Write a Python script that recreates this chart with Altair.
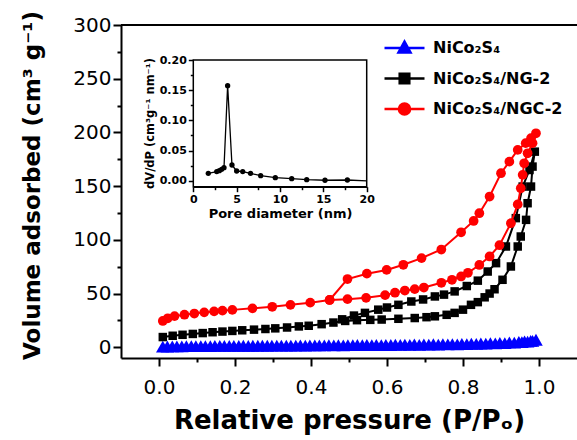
import altair as alt
import pandas as pd

SERIES = ["NiCo₂S₄", "NiCo₂S₄/NG-2", "NiCo₂S₄/NGC-2"]
COLORS = ["#0000ff", "#000000", "#ff0000"]

# ---- NiCo2S4 (blue) ----
blue_ads_p = [0.010, 0.035, 0.060, 0.085, 0.110, 0.135, 0.160, 0.185, 0.210, 0.235, 0.260, 0.285,
              0.310, 0.335, 0.360, 0.385, 0.410, 0.435, 0.460, 0.485, 0.510, 0.535, 0.560, 0.585,
              0.610, 0.635, 0.660, 0.685, 0.710, 0.735, 0.760, 0.785, 0.810, 0.835, 0.860, 0.885,
              0.910, 0.935, 0.955, 0.970, 0.983, 0.992]
blue_ads_v = [0.5, 0.8, 0.9, 1.0, 1.0, 1.1, 1.2, 1.2, 1.3, 1.3, 1.4, 1.4,
              1.5, 1.5, 1.6, 1.6, 1.7, 1.7, 1.8, 1.8, 1.9, 1.9, 2.0, 2.0,
              2.1, 2.2, 2.2, 2.3, 2.4, 2.5, 2.6, 2.7, 2.9, 3.1, 3.3, 3.6,
              3.9, 4.3, 4.8, 5.3, 6.0, 7.0]
blue_des_p = [0.978, 0.962, 0.947, 0.922, 0.897, 0.872, 0.847, 0.822, 0.797, 0.772, 0.747, 0.722,
              0.697, 0.672, 0.647, 0.622, 0.597, 0.572, 0.547, 0.522, 0.497, 0.472, 0.447, 0.422,
              0.397, 0.372, 0.347, 0.322, 0.297, 0.272, 0.247, 0.222, 0.197, 0.172, 0.147, 0.122,
              0.097, 0.072, 0.047, 0.022]
blue_des_v = [6.0, 5.4, 5.0, 4.5, 4.1, 3.8, 3.5, 3.3, 3.1, 3.0, 2.9, 2.8,
              2.7, 2.6, 2.5, 2.4, 2.3, 2.3, 2.2, 2.1, 2.0, 2.0, 1.9, 1.8,
              1.8, 1.7, 1.6, 1.6, 1.5, 1.5, 1.4, 1.4, 1.3, 1.3, 1.2, 1.1,
              1.1, 1.0, 0.9, 0.7]

# ---- NiCo2S4/NG-2 (black) ----
black_ads_p = [0.010, 0.036, 0.062, 0.089, 0.115, 0.141, 0.167, 0.193, 0.219, 0.250, 0.280, 0.306,
               0.337, 0.368, 0.394, 0.428, 0.459, 0.490, 0.521, 0.556, 0.586, 0.630, 0.673, 0.704,
               0.726, 0.757, 0.778, 0.800, 0.821, 0.839, 0.857, 0.870, 0.883, 0.904, 0.926, 0.944,
               0.952, 0.966, 0.970, 0.979, 0.983, 0.989]
black_ads_v = [9.5, 10.7, 11.6, 12.4, 13.2, 14.0, 14.6, 15.2, 15.8, 16.4, 17.0, 17.6,
               18.4, 19.4, 20.0, 21.5, 23.0, 24.5, 25.2, 25.5, 25.8, 26.5, 27.2, 28.0,
               28.8, 30.2, 32.0, 35.0, 39.5, 42.0, 46.5, 50.0, 54.0, 62.8, 75.2, 93.8,
               103.1, 118.6, 134.1, 149.6, 168.2, 182.1]
black_des_p = [0.975, 0.957, 0.939, 0.913, 0.887, 0.865, 0.839, 0.810, 0.778, 0.750, 0.726, 0.695,
               0.664, 0.630, 0.600, 0.577, 0.542, 0.513, 0.482]
black_des_v = [165.0, 149.6, 120.2, 93.8, 78.3, 70.5, 62.0, 57.0, 52.0, 49.0, 47.3, 44.5,
               42.6, 39.5, 37.0, 35.0, 32.0, 29.5, 26.0]

# ---- NiCo2S4/NGC-2 (red) ----
red_ads_p = [0.010, 0.023, 0.041, 0.067, 0.093, 0.119, 0.145, 0.167, 0.193, 0.246, 0.298, 0.346,
             0.398, 0.449, 0.496, 0.545, 0.595, 0.621, 0.647, 0.673, 0.697, 0.743, 0.771, 0.795,
             0.813, 0.843, 0.870, 0.896, 0.926, 0.944, 0.952, 0.957, 0.961, 0.970, 0.983, 0.992]
red_ads_v = [24.5, 27.0, 29.0, 30.3, 31.4, 32.5, 33.4, 34.1, 34.8, 36.2, 37.7, 39.5,
             41.5, 44.0, 44.8, 46.0, 48.5, 50.8, 52.8, 54.1, 55.6, 60.0, 62.8, 65.9,
             69.3, 76.6, 84.5, 95.0, 115.5, 133.0, 148.0, 160.5, 171.3, 180.6, 190.0, 199.2]
red_des_p = [0.979, 0.965, 0.944, 0.922, 0.900, 0.870, 0.843, 0.828, 0.795, 0.743, 0.691, 0.643,
             0.599, 0.547, 0.496, 0.449]
red_des_v = [194.6, 190.0, 183.7, 172.8, 162.0, 140.3, 124.8, 117.6, 107.0, 91.0, 83.0, 76.8,
             72.0, 68.5, 63.5, 44.0]

# ---- inset: pore size distribution ----
inset_d = [1.73, 2.70, 3.00, 3.27, 3.54, 3.96, 4.46, 5.00, 5.70, 6.60, 7.77, 9.46,
           11.35, 13.08, 15.19, 17.77, 20.0]
inset_v = [0.0122, 0.0150, 0.0166, 0.0188, 0.0216, 0.1575, 0.0260, 0.0160, 0.0150, 0.0122, 0.0083, 0.0050,
           0.0033, 0.0017, 0.0007, 0.0011, -0.0005]

x_ticks = [0.0, 0.1, 0.2, 0.3, 0.4, 0.5, 0.6, 0.7, 0.8, 0.9, 1.0]
y_ticks = [0, 25, 50, 75, 100, 125, 150, 175, 200, 225, 250, 275, 300]
inset_x_ticks = [0, 2.5, 5, 7.5, 10, 12.5, 15, 17.5, 20]
inset_y_ticks = [0, 0.025, 0.05, 0.075, 0.1, 0.125, 0.15, 0.175, 0.2]


def series_frame(name, ap, av, dp, dv):
    p = ap + dp
    v = av + dv
    return pd.DataFrame({"series": name, "p": p, "v": v, "idx": list(range(len(p)))})


df = pd.concat([
    series_frame(SERIES[0], blue_ads_p, blue_ads_v, blue_des_p, blue_des_v),
    series_frame(SERIES[1], black_ads_p, black_ads_v, black_des_p, black_des_v),
    series_frame(SERIES[2], red_ads_p, red_ads_v, red_des_p, red_des_v),
], ignore_index=True)

inset_df = pd.DataFrame({"d": inset_d, "dv": inset_v})

FONT = "DejaVu Sans"

xs = alt.Scale(domain=[-0.1, 1.1], nice=False, zero=False)
ys = alt.Scale(domain=[-10, 300], nice=False, zero=False)

x_axis = alt.Axis(
    orient="bottom", values=x_ticks, grid=False,
    labelExpr="round(datum.value*10) % 2 == 0 ? format(datum.value, '.1f') : ''",
    tickSize={"condition": {"test": "round(datum.value*10) % 2 != 0", "value": 4}, "value": 8},
    tickWidth=2, tickColor="black", domainColor="black", domainWidth=2,
    labelFont=FONT, labelFontSize=20, labelColor="black", labelPadding=11,
    labelFlush=False, labelOverlap=False,
    title="Relative pressure (P/Pₒ)", titleFont=FONT, titleFontSize=26, titleFontWeight="bold",
    titleColor="black", titleY=62, titleBaseline="middle",
)
y_axis = alt.Axis(
    orient="left", values=y_ticks, grid=False,
    labelExpr="datum.value % 50 == 0 ? format(datum.value, 'd') : ''",
    tickSize={"condition": {"test": "datum.value % 50 != 0", "value": 4}, "value": 8},
    tickWidth=2, tickColor="black", domainColor="black", domainWidth=2,
    labelFont=FONT, labelFontSize=20, labelColor="black", labelPadding=2,
    labelFlush=False, labelOverlap=False,
    title="Volume adsorbed (cm³ g⁻¹)", titleFont=FONT, titleFontSize=23, titleFontWeight="bold",
    titleColor="black", titleX=-89, titleY=160, titleBaseline="middle", titleAngle=270,
)

X = alt.X("p:Q", scale=xs, axis=x_axis)
Y = alt.Y("v:Q", scale=ys, axis=y_axis)

top_df = pd.DataFrame({"p": [-0.1], "p2": [1.1], "v": [300]})
top_rule = alt.Chart(top_df).mark_rule(color="black", strokeWidth=2).encode(
    x=X, x2="p2:Q", y=Y)

shapes = ["triangle-up", "square", "circle"]
sizes = [185, 72, 95]
layers = [top_rule]
for name, col, shp, sz in zip(SERIES, COLORS, shapes, sizes):
    base = alt.Chart(df).transform_filter(alt.datum.series == name)
    layers.append(base.mark_line(color=col, strokeWidth=2).encode(x=X, y=Y, order="idx:Q"))
    layers.append(base.mark_point(shape=shp, filled=True, size=sz, color=col, opacity=1)
                  .encode(x=X, y=Y))

leg_paths = [
    "M-1,0H1M0,-0.32L0.3,0.22L-0.3,0.22Z",
    "M-1,0H1M-0.24,-0.24H0.24V0.24H-0.24Z",
    "M-1,0H1M-0.28,0A0.28,0.28,0,1,0,0.28,0A0.28,0.28,0,1,0,-0.28,0Z",
]


def make_legend():
    return alt.Legend(
        title=None, orient="none", legendX=262, legendY=13, padding=0,
        labelFont=FONT, labelFontWeight="bold", labelFontSize=16, labelColor="black",
        symbolSize=1600, symbolStrokeWidth=2.5, clipHeight=20, rowPadding=10.5,
        labelOffset=7, symbolOpacity=1,
    )


legend_layer = alt.Chart(df).transform_filter("false").mark_point(filled=True, opacity=1).encode(
    fill=alt.Fill("series:N", scale=alt.Scale(domain=SERIES, range=COLORS), legend=make_legend()),
    stroke=alt.Stroke("series:N", scale=alt.Scale(domain=SERIES, range=COLORS), legend=make_legend()),
    shape=alt.Shape("series:N", scale=alt.Scale(domain=SERIES, range=leg_paths), legend=make_legend()),
)
layers.append(legend_layer)

main = alt.layer(*layers)

# ---- inset ----
ix = alt.Scale(domain=[0, 20], range=[72.3, 245.7], nice=False, zero=False)
iy = alt.Scale(domain=[-0.01, 0.2], range=[161.7, 35], nice=False, zero=False)

ix_axis = alt.Axis(
    orient="bottom", offset=-171.3, values=inset_x_ticks, grid=False,
    labelExpr="datum.value % 5 == 0 ? format(datum.value, 'd') : ''",
    tickSize={"condition": {"test": "datum.value % 5 != 0", "value": 3}, "value": 5},
    tickWidth=1.5, tickColor="black", domainColor="black", domainWidth=1.5,
    labelFont=FONT, labelFontSize=11, labelFontWeight="bold", labelColor="black", labelPadding=2,
    labelFlush=False, labelOverlap=False,
    title="Pore diameter (nm)", titleFont=FONT, titleFontSize=13, titleFontWeight="bold",
    titleColor="black", titlePadding=3,
)
iy_axis = alt.Axis(
    orient="left", offset=-72.3, values=inset_y_ticks, grid=False,
    labelExpr="round(datum.value*40) % 2 == 0 ? format(datum.value, '.2f') : ''",
    tickSize={"condition": {"test": "round(datum.value*40) % 2 != 0", "value": 3}, "value": 5},
    tickWidth=1.5, tickColor="black", domainColor="black", domainWidth=1.5,
    labelFont=FONT, labelFontSize=11, labelFontWeight="bold", labelColor="black", labelPadding=2,
    labelFlush=False, labelOverlap=False,
    title="dV/dP (cm³g⁻¹ nm⁻¹)", titleFont=FONT, titleFontSize=11.5, titleFontWeight="bold",
    titleColor="black", titleX=-43, titleY=98, titleBaseline="middle", titleAngle=270,
)

frame_df = pd.DataFrame({"d": [0], "d2": [20], "dv": [-0.01], "dv2": [0.2]})
IX = alt.X("d:Q", scale=ix, axis=ix_axis)
IY = alt.Y("dv:Q", scale=iy, axis=iy_axis)

inset_frame = alt.Chart(frame_df).mark_rect(fill="white", stroke="black", strokeWidth=1.5).encode(
    x=IX, x2="d2:Q", y=IY, y2="dv2:Q")
inset_line = alt.Chart(inset_df).mark_line(color="black", strokeWidth=1.3).encode(x=IX, y=IY)
inset_pts = alt.Chart(inset_df).transform_filter(alt.datum.d < 20).mark_point(
    filled=True, size=28, color="black", opacity=1).encode(x=IX, y=IY)

inset = alt.layer(inset_frame, inset_line, inset_pts)

chart = alt.layer(main, inset).resolve_scale(x="independent", y="independent").properties(
    width=456, height=333,
    padding={"left": 121, "top": 25, "right": 0, "bottom": 82},
    autosize=alt.AutoSizeParams(type="none"),
    background="white",
).configure_view(stroke=None)

chart.save("out.html", embed_options={"renderer": "svg", "actions": False})
